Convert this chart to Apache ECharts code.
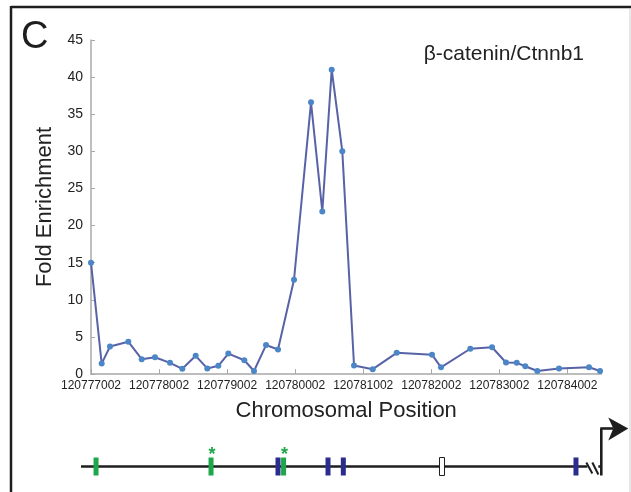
<!DOCTYPE html>
<html>
<head>
<meta charset="utf-8">
<script src="https://cdn.jsdelivr.net/npm/echarts@6/dist/echarts.min.js"></script>
<style>
html,body{margin:0;padding:0;background:#fff;}
#chart{width:631px;height:492px;}
</style>
</head>
<body>
<div id="chart"></div>
<script>
// ---- data ----
const BASE = 120777002;
const positions = [120777002,120777159,120777281,120777550,120777747,120777942,120778163,120778344,120778540,120778711,120778873,120779020,120779255,120779397,120779574,120779750,120779985,120780235,120780401,120780539,120780695,120780867,120781142,120781494,120782013,120782145,120782576,120782895,120783100,120783258,120783384,120783560,120783879,120784320,120784482];
const enrichment = [15.0,1.4,3.7,4.35,2.0,2.25,1.5,0.7,2.45,0.75,1.1,2.75,1.85,0.4,3.9,3.3,12.7,36.6,21.9,41.0,30.0,1.15,0.65,2.85,2.6,0.9,3.4,3.6,1.55,1.5,1.05,0.4,0.75,0.9,0.4];
const xTickValues = [120777002,120778002,120779002,120780002,120781002,120782002,120783002,120784002];
const yTicks = [0,5,10,15,20,25,30,35,40,45];

// gene diagram
const geneStart = 120776865;
const geneBreak = 120784350;
const tssPos = 120784511;
const exonPos = [120777086,120778776,120779760,120779842,120780495,120780720,120782170,120784139];
const exonType = ['green','green','blue','green','blue','blue','open','blue'];
const exonStar = [false,true,false,true,false,false,false,false];

const FONT = "'Liberation Sans', Arial, Helvetica, sans-serif";
const chart = echarts.init(document.getElementById('chart'));

const lineData = positions.map((p,i)=>[p-BASE, enrichment[i]]);

const diagramItems = [];
diagramItems.push({value:[geneStart-BASE, 0.5, 0, 'backbone']});
exonPos.forEach((p,i)=>diagramItems.push({value:[p-BASE, 0.5, i, 'exon']}));
diagramItems.push({value:[geneBreak-BASE, 0.5, 0, 'break']});
diagramItems.push({value:[tssPos-BASE, 0.5, 0, 'tss']});

const exonColors = {green:'#1ea64b', blue:'#2a2c8e', open:'#ffffff'};

function renderDiagram(params, api){
  const kind = diagramItems[params.dataIndex].value[3];
  const pt = api.coord([api.value(0), api.value(1)]);
  const x = pt[0], y = pt[1];
  if(kind === 'backbone'){
    const end = api.coord([tssPos-BASE, 0.5]);
    return {type:'line', shape:{x1:x,y1:y,x2:end[0],y2:y}, style:{stroke:'#1e1e1e', lineWidth:2.6}};
  }
  if(kind === 'exon'){
    const i = api.value(2);
    const t = exonType[i];
    const children = [{
      type:'rect',
      shape:{x:x-2.5, y:y-9, width:5, height:18},
      style:{fill:exonColors[t], stroke: t==='open' ? '#1e1e1e' : null, lineWidth: t==='open'?1:0}
    }];
    if(exonStar[i]){
      children.push({type:'text', x:x+1, y:y-11, style:{text:'*', fill:'#1ea64b', font:'bold 18px '+FONT, align:'center', verticalAlign:'middle'}});
    }
    return {type:'group', children};
  }
  if(kind === 'break'){
    return {type:'group', children:[
      {type:'rect', shape:{x:x-3, y:y-3, width:11, height:6}, style:{fill:'#fff'}},
      {type:'line', shape:{x1:x-4,y1:y-4,x2:x+2,y2:y+7}, style:{stroke:'#1e1e1e', lineWidth:2}},
      {type:'line', shape:{x1:x+2,y1:y-4,x2:x+8,y2:y+8}, style:{stroke:'#1e1e1e', lineWidth:2}}
    ]};
  }
  if(kind === 'tss'){
    return {type:'group', children:[
      {type:'line', shape:{x1:x,y1:y+9,x2:x,y2:y-38}, style:{stroke:'#1e1e1e', lineWidth:2.6}},
      {type:'line', shape:{x1:x-1,y1:y-38,x2:x+12,y2:y-38}, style:{stroke:'#1e1e1e', lineWidth:2.6}},
      {type:'polygon', shape:{points:[[x+7,y-49],[x+27,y-38],[x+7,y-26],[x+12,y-38]]}, style:{fill:'#1e1e1e'}}
    ]};
  }
  return null;
}

const option = {
  backgroundColor:'#fff',
  animation:false,
  textStyle:{fontFamily:FONT},
  title:{
    text:'β-catenin/Ctnnb1',
    right:42, top:39,
    textStyle:{fontFamily:FONT, fontSize:21, fontWeight:'normal', color:'#222'}
  },
  graphic:[
    {type:'line', shape:{x1:11,y1:7,x2:631,y2:7}, style:{stroke:'#1e1e1e', lineWidth:2.5}},
    {type:'line', shape:{x1:11,y1:6,x2:11,y2:492}, style:{stroke:'#1e1e1e', lineWidth:2.5}},
    {type:'line', shape:{x1:630,y1:8,x2:630,y2:492}, style:{stroke:'#cfcfcf', lineWidth:1}},
    {type:'text', left:21, top:19, style:{text:'C', fill:'#1e1e1e', font:'38px '+FONT}}
  ],
  grid:[
    {left:91, top:40, width:510.4, height:334},
    {left:81, top:441, width:549, height:60}
  ],
  xAxis:[
    {
      type:'value', gridIndex:0, min:0, max:7500, interval:1000,
      name:'Chromosomal Position', nameLocation:'middle', nameGap:26,
      nameTextStyle:{fontFamily:FONT, fontSize:22, color:'#222'},
      axisLine:{show:true, onZero:false, lineStyle:{color:'#a8a8a8', width:1.5}},
      axisTick:{show:true, inside:true, length:5, lineStyle:{color:'#a8a8a8'}},
      axisLabel:{fontFamily:FONT, fontSize:12, color:'#222', margin:6,
        formatter:v=> xTickValues.indexOf(v+BASE) >= 0 ? String(v+BASE) : ''},
      splitLine:{show:false}
    },
    {type:'value', gridIndex:1, min:geneStart-BASE-0, max:geneStart-BASE+8068, show:false}
  ],
  yAxis:[
    {
      type:'value', gridIndex:0, min:yTicks[0], max:yTicks[yTicks.length-1], interval:5,
      name:'Fold Enrichment', nameLocation:'middle', nameGap:35, nameRotate:90,
      nameTextStyle:{fontFamily:FONT, fontSize:22, color:'#222'},
      axisLine:{show:true, lineStyle:{color:'#a8a8a8', width:1.5}},
      axisTick:{show:true, inside:true, length:4, lineStyle:{color:'#a8a8a8'}},
      axisLabel:{fontFamily:FONT, fontSize:14, color:'#222', margin:8},
      splitLine:{show:false}
    },
    {type:'value', gridIndex:1, min:0, max:1, show:false}
  ],
  series:[
    {
      type:'line', xAxisIndex:0, yAxisIndex:0, data:lineData,
      clip:false,
      symbol:'circle', symbolSize:6,
      lineStyle:{color:'#5862a6', width:2},
      itemStyle:{color:'#4b86c6', borderWidth:0}
    },
    {
      type:'custom', xAxisIndex:1, yAxisIndex:1, clip:false,
      data:diagramItems, renderItem:renderDiagram, silent:true
    }
  ]
};
chart.setOption(option);
</script>
</body>
</html>
